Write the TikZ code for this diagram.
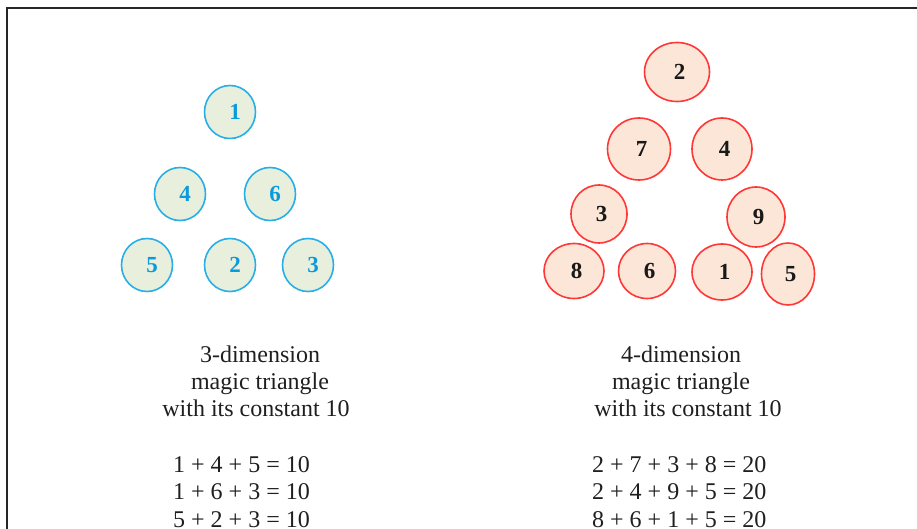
\documentclass[tikz,border=0pt]{standalone}
\usepackage{fontspec}
\setmainfont{Liberation Serif}
\usetikzlibrary{shapes.geometric}
\definecolor{bstroke}{RGB}{40,175,230}
\definecolor{bfill}{RGB}{232,239,221}
\definecolor{btext}{RGB}{10,155,220}
\definecolor{rstroke}{RGB}{255,55,55}
\definecolor{rfill}{RGB}{252,230,215}
\tikzset{
  bc/.style={ellipse, draw=bstroke, fill=bfill, line width=1.6pt, inner sep=0pt,
    minimum width=51pt, minimum height=53pt, text=btext,
    font=\bfseries\fontsize{23}{23}\selectfont, execute at begin node={\hspace*{10pt}}},
  rc/.style={ellipse, draw=rstroke, fill=rfill, line width=1.6pt, inner sep=0pt,
    text=black!90, font=\bfseries\fontsize{23}{23}\selectfont, execute at begin node={\hspace*{5pt}}},
  txt/.style={font=\fontsize{24}{27}\selectfont, inner sep=0pt, text=black!88},
  frame/.style={draw=black!85, line width=1.6pt}
}
\begin{document}
\begin{tikzpicture}[x=1pt,y=-1pt]
\useasboundingbox (0,0) rectangle (917,529);
\coordinate (fr) at (930,8);
\coordinate (fc) at (7,8);
\coordinate (fb) at (7,540);
\draw[frame] (fr) -- (fc) -- (fb);
% blue triangle
\node[bc] (b1) at (230,112) {1};
\node[bc] (b4) at (180,194) {4};
\node[bc] (b6) at (270,194) {6};
\node[bc] (b5) at (147,265) {5};
\node[bc] (b2) at (230,265) {2};
\node[bc] (b3) at (308,265) {3};
% red triangle
\node[rc, minimum width=65pt, minimum height=59pt] (r2) at (677,72) {2};
\node[rc, minimum width=63pt, minimum height=62pt] (r7) at (639,149) {7};
\node[rc, minimum width=60pt, minimum height=62pt] (r4) at (722,149) {4};
\node[rc, minimum width=56pt, minimum height=58pt] (r3) at (599,214) {3};
\node[rc, minimum width=58pt, minimum height=60pt] (r9) at (756,217) {9};
\node[rc, minimum width=60pt, minimum height=55pt] (r8) at (574,271) {8};
\node[rc, minimum width=57pt, minimum height=55pt] (r6) at (647,271) {6};
\node[rc, minimum width=60pt, minimum height=56pt] (r1) at (722,272) {1};
\node[rc, minimum width=53pt, minimum height=62pt] (r5) at (788,274) {5};
% left texts
\node[txt, anchor=base] (lt1) at (260,362) {3-dimension};
\node[txt, anchor=base] (lt2) at (260,389) {magic triangle};
\node[txt, anchor=base] (lt3) at (256,416) {with its constant 10};
\node[txt, anchor=base west] (le1) at (173,472) {1 + 4 + 5 = 10};
\node[txt, anchor=base west] (le2) at (173,499) {1 + 6 + 3 = 10};
\node[txt, anchor=base west] (le3) at (173,527) {5 + 2 + 3 = 10};
% right texts
\node[txt, anchor=base] (rt1) at (681,362) {4-dimension};
\node[txt, anchor=base] (rt2) at (681,389) {magic triangle};
\node[txt, anchor=base] (rt3) at (688,416) {with its constant 10};
\node[txt, anchor=base west] (re1) at (592,472) {2 + 7 + 3 + 8 = 20};
\node[txt, anchor=base west] (re2) at (592,499) {2 + 4 + 9 + 5 = 20};
\node[txt, anchor=base west] (re3) at (592,527) {8 + 6 + 1 + 5 = 20};
\end{tikzpicture}
\end{document}
